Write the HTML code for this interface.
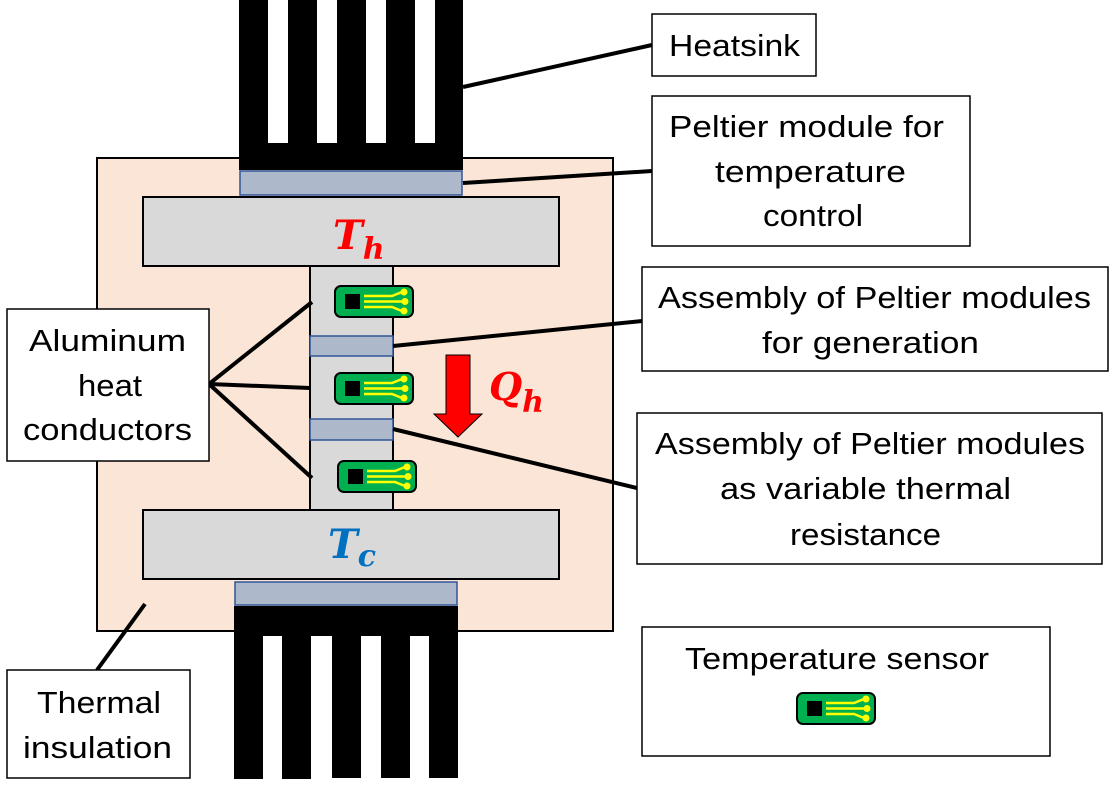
<!DOCTYPE html>
<html><head><style>
html,body{margin:0;padding:0;background:#fff;width:1114px;height:792px;overflow:hidden}
svg{display:block}
text{font-family:"Liberation Sans",sans-serif;font-size:31px;fill:#000}
</style></head><body>
<svg width="1114" height="792" viewBox="0 0 1114 792">
<defs>
<g id="s">
<rect x="1" y="1" width="78" height="31" rx="6" fill="#00b050" stroke="#000" stroke-width="2"/>
<rect x="11" y="9" width="15" height="15" fill="#000"/>
<g stroke="#ffff00" stroke-width="2.5" fill="none">
<path d="M30 11 H58 L68 7"/><path d="M30 16.5 H70"/><path d="M30 22 H58 L68 26"/>
</g>
<g fill="#ffff00"><circle cx="70" cy="7" r="3.5"/><circle cx="71" cy="16.5" r="3.5"/><circle cx="70" cy="26" r="3.5"/></g>
</g>
</defs>
<rect x="97" y="158" width="516" height="473" fill="#fbe5d6" stroke="#000" stroke-width="2"/>
<rect x="239" y="0" width="224" height="170" fill="#000"/>
<g fill="#fff"><rect x="268" y="0" width="20" height="143"/><rect x="317" y="0" width="20" height="143"/><rect x="366" y="0" width="20" height="143"/><rect x="415" y="0" width="20" height="143"/></g>
<rect x="240" y="171" width="222" height="24" fill="#adb9ca" stroke="#2f5597" stroke-width="1.5"/>
<rect x="234" y="606" width="224" height="30" fill="#000"/>
<g fill="#000"><rect x="234" y="630" width="29" height="149"/><rect x="282" y="630" width="29" height="149"/><rect x="332" y="630" width="29" height="148"/><rect x="381" y="630" width="29" height="148"/><rect x="429" y="630" width="29" height="148"/></g>
<rect x="235" y="582" width="222" height="23" fill="#adb9ca" stroke="#2f5597" stroke-width="1.5"/>
<rect x="143" y="197" width="416" height="69" fill="#d9d9d9" stroke="#000" stroke-width="2"/>
<rect x="310" y="266" width="83" height="244" fill="#d9d9d9" stroke="#000" stroke-width="2"/>
<rect x="143" y="510" width="416" height="69" fill="#d9d9d9" stroke="#000" stroke-width="2"/>
<rect x="310" y="336" width="83" height="20" fill="#adb9ca" stroke="#2f5597" stroke-width="1.5"/>
<rect x="310" y="419" width="83" height="21" fill="#adb9ca" stroke="#2f5597" stroke-width="1.5"/>
<use href="#s" x="334" y="285"/>
<use href="#s" x="334" y="372"/>
<use href="#s" x="337" y="460"/>
<text x="333" y="249" style="font-family:'DejaVu Serif',serif;font-weight:bold;font-style:italic;font-size:40px;fill:#ff0000">T<tspan dy="10" font-size="30">h</tspan></text>
<text x="328" y="558" style="font-family:'DejaVu Serif',serif;font-weight:bold;font-style:italic;font-size:40px;fill:#0070c0">T<tspan dy="8" font-size="30">c</tspan></text>
<polygon points="446,355 470,355 470,414 482,414 458,437 434,414 446,414" fill="#ff0000" stroke="#000" stroke-width="1"/>
<text x="489" y="400" style="font-family:'DejaVu Serif',serif;font-weight:bold;font-style:italic;font-size:38px;fill:#ff0000">Q<tspan dy="12" font-size="30">h</tspan></text>
<g stroke="#000" stroke-width="4">
<line x1="463" y1="87" x2="652" y2="45"/>
<line x1="463" y1="183" x2="652" y2="171"/>
<line x1="393" y1="346" x2="642" y2="321"/>
<line x1="393" y1="429" x2="637" y2="488"/>
<line x1="209" y1="384" x2="312" y2="302"/>
<line x1="209" y1="384" x2="310" y2="388"/>
<line x1="209" y1="384" x2="312" y2="478"/>
<line x1="97" y1="670" x2="145" y2="604"/>
</g>
<g fill="#fff" stroke="#000" stroke-width="1.5">
<rect x="652" y="14" width="164" height="62"/>
<rect x="652" y="96" width="318" height="150"/>
<rect x="642" y="267" width="466" height="104"/>
<rect x="637" y="413" width="465" height="151"/>
<rect x="642" y="627" width="408" height="129"/>
<rect x="7" y="309" width="202" height="152"/>
<rect x="7" y="670" width="183" height="108"/>
</g>
<g lengthAdjust="spacingAndGlyphs">
<text x="669" y="56" textLength="131" lengthAdjust="spacingAndGlyphs">Heatsink</text>
<text x="669" y="137" textLength="275" lengthAdjust="spacingAndGlyphs">Peltier module for</text>
<text x="715" y="182" textLength="191" lengthAdjust="spacingAndGlyphs">temperature</text>
<text x="763" y="226" textLength="100" lengthAdjust="spacingAndGlyphs">control</text>
<text x="658" y="308" textLength="433" lengthAdjust="spacingAndGlyphs">Assembly of Peltier modules</text>
<text x="762" y="353" textLength="217" lengthAdjust="spacingAndGlyphs">for generation</text>
<text x="655" y="454" textLength="430" lengthAdjust="spacingAndGlyphs">Assembly of Peltier modules</text>
<text x="720" y="499" textLength="291" lengthAdjust="spacingAndGlyphs">as variable thermal</text>
<text x="790" y="545" textLength="151" lengthAdjust="spacingAndGlyphs">resistance</text>
<text x="685" y="669" textLength="304" lengthAdjust="spacingAndGlyphs">Temperature sensor</text>
<text x="29" y="351" textLength="157" lengthAdjust="spacingAndGlyphs">Aluminum</text>
<text x="78" y="396" textLength="64" lengthAdjust="spacingAndGlyphs">heat</text>
<text x="23" y="440" textLength="169" lengthAdjust="spacingAndGlyphs">conductors</text>
<text x="37" y="713" textLength="124" lengthAdjust="spacingAndGlyphs">Thermal</text>
<text x="23" y="758" textLength="149" lengthAdjust="spacingAndGlyphs">insulation</text>
</g>
<use href="#s" x="796" y="692"/>
</svg>
</body></html>
